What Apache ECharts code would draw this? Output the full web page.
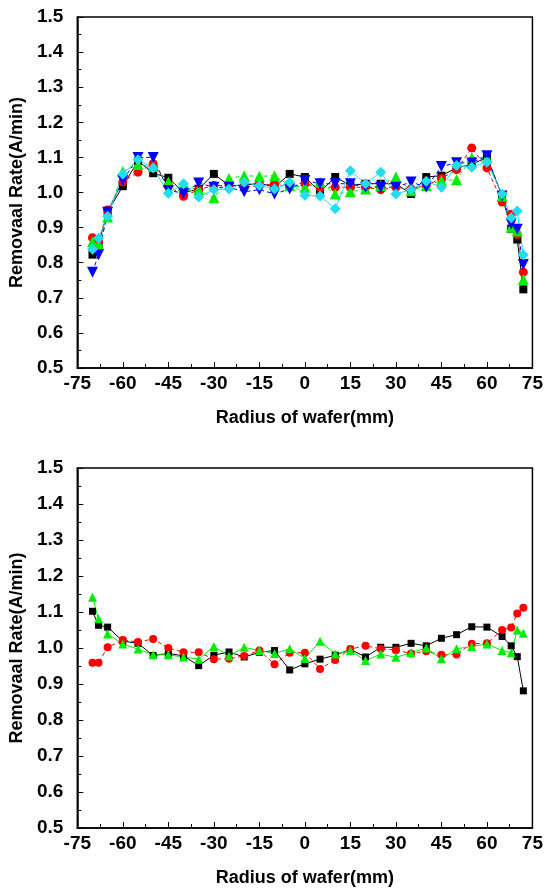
<!DOCTYPE html>
<html>
<head>
<meta charset="utf-8">
<script src="https://cdn.jsdelivr.net/npm/echarts@6/dist/echarts.min.js"></script>
<style>
html,body{margin:0;padding:0;background:#fff;}
#c{width:546px;height:892px;}
</style>
</head>
<body>
<div id="c"></div>
<script>
// ---- data ----
const radius = [-70,-68,-65,-60,-55,-50,-45,-40,-35,-30,-25,-20,-15,-10,-5,0,5,10,15,20,25,30,35,40,45,50,55,60,65,68,70,72];

// top chart (5 series)
const topBlack = [0.823,0.855,0.945,1.018,1.090,1.055,1.042,1.000,1.010,1.053,1.020,1.020,1.027,1.015,1.053,1.044,1.002,1.044,1.020,1.025,1.025,1.025,0.996,1.044,1.048,1.070,1.080,1.100,0.990,0.897,0.866,0.724];
const topRed   = [0.871,0.860,0.950,1.030,1.058,1.082,1.020,0.989,1.008,1.020,1.020,1.015,1.020,1.025,1.015,1.025,1.015,1.015,1.015,1.015,1.008,1.015,1.010,1.020,1.040,1.065,1.127,1.070,0.973,0.938,0.880,0.773];
const topGreen = [0.860,0.852,0.930,1.060,1.080,1.074,1.030,1.020,1.008,0.985,1.040,1.048,1.046,1.048,1.020,1.015,1.029,0.996,1.002,1.010,1.020,1.044,1.005,1.020,1.034,1.036,1.099,1.099,0.990,0.901,0.890,0.752];
const topBlue  = [0.773,0.823,0.944,1.034,1.100,1.100,1.006,0.998,1.027,1.015,1.015,1.002,1.008,0.996,1.010,1.034,1.025,1.025,1.025,1.015,1.015,1.015,1.030,1.015,1.074,1.085,1.084,1.105,0.990,0.910,0.895,0.795];
const topCyan  = [0.838,0.870,0.932,1.052,1.093,1.070,0.998,1.025,0.987,1.008,1.010,1.029,1.020,1.010,1.029,0.992,0.990,0.954,1.062,1.025,1.058,0.996,1.008,1.032,1.015,1.077,1.072,1.086,0.996,0.928,0.947,0.823];

// bottom chart (3 series)
const botBlack = [1.102,1.063,1.058,1.019,1.013,0.979,0.985,0.978,0.951,0.980,0.989,0.975,0.988,0.993,0.939,0.956,0.969,0.980,0.996,0.975,1.002,1.002,1.013,1.006,1.027,1.037,1.059,1.058,1.032,1.006,0.976,0.881];
const botRed   = [0.959,0.959,1.002,1.022,1.017,1.025,1.000,0.988,0.988,0.969,0.970,0.978,0.993,0.955,0.987,0.987,0.942,0.967,0.997,1.006,0.998,0.994,0.985,0.991,0.981,0.982,1.012,1.013,1.050,1.057,1.096,1.112];
const botGreen = [1.141,1.081,1.039,1.011,0.997,0.981,0.981,0.975,0.969,1.004,0.978,1.002,0.993,0.985,0.998,0.971,1.019,0.983,0.993,0.965,0.983,0.974,0.987,1.000,0.970,0.998,1.004,1.011,0.993,0.987,1.050,1.041];

const yTicks = [0.5,0.6,0.7,0.8,0.9,1.0,1.1,1.2,1.3,1.4,1.5];
const xTicks = [-75,-60,-45,-30,-15,0,15,30,45,60,75];
const yTitle = 'Removaal Rate(A/min)';
const xTitle = 'Radius of wafer(mm)';

// ---- chart ----
const FONT = 'Liberation Sans';
const pair = arr => radius.map((r,i)=>[r,arr[i]]);
const lbl = {fontFamily:FONT,fontWeight:'bold',fontSize:19,color:'#000'};
const ttl = {fontFamily:FONT,fontWeight:'bold',fontSize:18,color:'#000'};

function xAx(gi){
  return {type:'value',gridIndex:gi,min:xTicks[0],max:xTicks[xTicks.length-1],interval:15,
    axisLine:{onZero:false,lineStyle:{color:'#000',width:1.5}},
    axisTick:{inside:true,length:6,lineStyle:{color:'#000',width:1}},
    minorTick:{show:true,splitNumber:2,length:4,lineStyle:{color:'#000',width:1}},
    splitLine:{show:false},
    axisLabel:Object.assign({margin:6,formatter:v=>String(v)},lbl),
    name:xTitle,nameLocation:'middle',nameGap:41,nameTextStyle:ttl};
}
function yAx(gi){
  return {type:'value',gridIndex:gi,min:yTicks[0],max:yTicks[yTicks.length-1],interval:0.1,
    axisLine:{onZero:false,lineStyle:{color:'#000',width:1.5}},
    axisTick:{inside:true,length:6,lineStyle:{color:'#000',width:1}},
    minorTick:{show:true,splitNumber:2,length:4,lineStyle:{color:'#000',width:1}},
    splitLine:{show:false},
    axisLabel:Object.assign({margin:14,formatter:v=>v.toFixed(1)},lbl),
    name:yTitle,nameLocation:'middle',nameGap:51,nameRotate:90,nameTextStyle:ttl};
}
function ser(gi,data,color,symbol,size,dash,rot){
  return {type:'line',xAxisIndex:gi,yAxisIndex:gi,data:pair(data),
    symbol:symbol,symbolSize:size,symbolRotate:rot||0,showSymbol:true,
    itemStyle:{color:color,borderWidth:0},
    lineStyle:{color:color,width:1,type:dash?[4,3]:'solid'},
    animation:false,z:2};
}

const chart = echarts.init(document.getElementById('c'),null,{renderer:'canvas'});
chart.setOption({
  backgroundColor:'#fff',
  animation:false,
  grid:[
    {left:72,top:17,width:463,height:351,show:true,borderColor:'#000',borderWidth:1.5,backgroundColor:'transparent'},
    {left:72,top:468,width:466,height:360,show:true,borderColor:'#000',borderWidth:1.5,backgroundColor:'transparent'}
  ],
  xAxis:[xAx(0),xAx(1)],
  yAxis:[yAx(0),yAx(1)],
  series:[
    ser(0,topBlack,'#000000','rect',8,false),
    ser(0,topRed,'#ff0000','circle',9,true),
    ser(0,topGreen,'#00ee00','triangle',11,true),
    ser(0,topBlue,'#0000ff','triangle',11,true,180),
    ser(0,topCyan,'#22dded','diamond',11,false),
    ser(1,botBlack,'#000000','rect',7,false),
    ser(1,botRed,'#ff0000','circle',8,true),
    ser(1,botGreen,'#00ee00','triangle',9,false)
  ]
});
</script>
</body>
</html>
